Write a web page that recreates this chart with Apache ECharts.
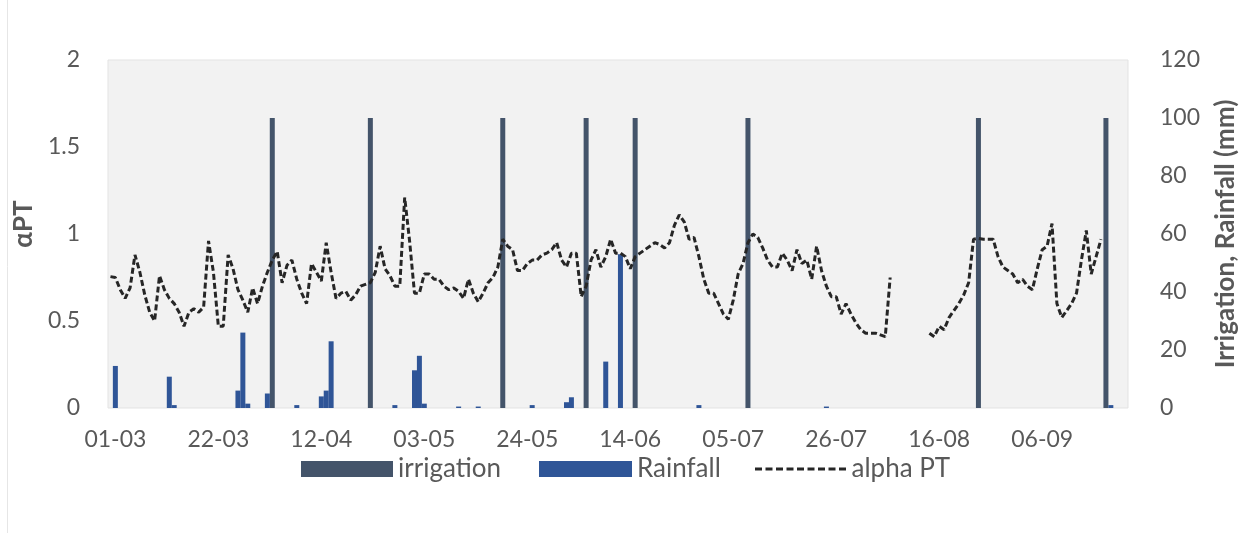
<!DOCTYPE html>
<html>
<head>
<meta charset="utf-8">
<script src="https://cdn.jsdelivr.net/npm/echarts@6/dist/echarts.min.js"></script>
<style>
  html, body { margin: 0; padding: 0; background: #ffffff; }
  #chart { width: 1250px; height: 533px; }
</style>
</head>
<body>
<div id="chart"></div>
<script>
// ---- Data ----
// Daily categories: 28-02 .. 23-09 (208 days)
const startDate = [2019, 1, 28];   // year, month (0-based), day
const dayCount = 208;

// Irrigation events (dd-mm) and depths (mm)
const irrigationDates = ['02-04', '22-04', '19-05', '05-06', '15-06', '08-07', '24-08', '19-09'];
const irrigationMm    = [100, 100, 100, 100, 100, 100, 100, 100];

// Rainfall events (dd-mm) and depths (mm)
const rainfallDates = ['01-03', '12-03', '13-03', '26-03', '27-03', '28-03', '01-04', '07-04',
                       '12-04', '13-04', '14-04', '27-04', '01-05', '02-05', '03-05', '10-05',
                       '14-05', '25-05', '01-06', '02-06', '09-06', '12-06', '28-06', '24-07', '20-09'];
const rainfallMm    = [14.5, 10.8, 1, 6, 26, 1.5, 5, 1,
                       4, 6, 23, 1, 13, 18, 1.5, 0.5,
                       0.5, 1, 2, 3.7, 16, 53, 1, 0.5, 1];

// Daily alpha PT (Priestley-Taylor coefficient), one value per category, null = missing
const alphaPT = [
  0.755, 0.75, 0.68, 0.63, 0.69, 0.88, 0.78, 0.65, 0.55, 0.50,
  0.76, 0.68, 0.63, 0.60, 0.55, 0.47, 0.55, 0.57, 0.55, 0.58,
  0.96, 0.78, 0.47, 0.47, 0.88, 0.80, 0.68, 0.62, 0.55, 0.69,
  0.60, 0.70, 0.78, 0.85, 0.90, 0.72, 0.82, 0.85, 0.74, 0.66,
  0.60, 0.83, 0.78, 0.73, 0.95, 0.78, 0.63, 0.66, 0.67, 0.62,
  0.65, 0.70, 0.71, 0.72, 0.78, 0.93, 0.80, 0.76, 0.70, 0.70,
  1.21, 0.96, 0.66, 0.66, 0.77, 0.77, 0.74, 0.74, 0.70, 0.68,
  0.69, 0.67, 0.63, 0.74, 0.66, 0.61, 0.66, 0.72, 0.75, 0.81,
  0.97, 0.93, 0.91, 0.79, 0.79, 0.83, 0.85, 0.85, 0.88, 0.89,
  0.91, 0.95, 0.85, 0.81, 0.89, 0.89, 0.64, 0.70, 0.85, 0.91,
  0.81, 0.87, 0.97, 0.89, 0.89, 0.87, 0.80, 0.87, 0.89, 0.91,
  0.93, 0.95, 0.94, 0.92, 0.95, 1.05, 1.11, 1.07, 0.97, 0.98,
  0.87, 0.74, 0.66, 0.66, 0.60, 0.54, 0.51, 0.62, 0.77, 0.83,
  0.95, 1.00, 0.98, 0.92, 0.85, 0.81, 0.81, 0.89, 0.85, 0.79,
  0.91, 0.83, 0.85, 0.74, 0.93, 0.79, 0.70, 0.64, 0.64, 0.54,
  0.60, 0.54, 0.49, 0.45, 0.43, 0.43, 0.43, 0.42, 0.41, 0.75,
  null, null, null, null, null, null, null, 0.43, 0.41, 0.47,
  0.45, 0.52, 0.56, 0.60, 0.65, 0.72, 0.97, 0.975, 0.97, 0.97,
  0.97, 0.87, 0.81, 0.79, 0.77, 0.72, 0.74, 0.70, 0.68, 0.80,
  0.91, 0.93, 1.06, 0.60, 0.52, 0.56, 0.60, 0.66, 0.85, 1.02,
  0.77, 0.87, 0.97, null, null, null, null, null
];

// Axis settings
const leftAxis  = { min: 0, max: 2,   interval: 0.5, name: 'αPT' };
const rightAxis = { min: 0, max: 120, interval: 20,  name: 'Irrigation, Rainfall (mm)' };
const labelEvery = 21;     // days between x-axis labels
const firstLabelIndex = 1; // 01-03

// ---- Build categories ----
const categories = [];
for (let k = 0; k < dayCount; k++) {
  const d = new Date(Date.UTC(startDate[0], startDate[1], startDate[2] + k));
  const dd = String(d.getUTCDate()).padStart(2, '0');
  const mm = String(d.getUTCMonth() + 1).padStart(2, '0');
  categories.push(dd + '-' + mm);
}
function toDaily(dates, values) {
  const arr = categories.map(() => null);
  dates.forEach((dt, j) => {
    const idx = categories.indexOf(dt);
    if (idx >= 0) arr[idx] = values[j];
  });
  return arr;
}
const irrigationDaily = toDaily(irrigationDates, irrigationMm);
const rainfallDaily   = toDaily(rainfallDates, rainfallMm);

const FONT = 'Lato, "Open Sans", sans-serif';
const TXT = '#595959';
const LINE_COLOR = '#262626';

// dashed legend key for the alpha PT line
let dashPath = 'path://';
for (let k = 0; k < 9; k++) {
  const x0 = k * 10.5;
  dashPath += 'M' + x0 + ',0H' + (x0 + 7) + 'V3H' + x0 + 'Z';
}

const legendText = { color: TXT, fontSize: 26, fontFamily: FONT };

const chart = echarts.init(document.getElementById('chart'), null, { renderer: 'canvas' });
chart.setOption({
  animation: false,
  backgroundColor: '#ffffff',
  textStyle: { fontFamily: FONT },
  graphic: [{
    type: 'line', shape: { x1: 7.5, y1: 0, x2: 7.5, y2: 533 },
    style: { stroke: '#e6e6e6', lineWidth: 1 }, silent: true
  }],
  grid: {
    left: 108, right: 122, top: 60, bottom: 125,
    show: true, backgroundColor: '#F2F2F2', borderColor: '#E3E3E3', borderWidth: 1
  },
  legend: [{
    data: ['irrigation'],
    left: 301, top: 456, padding: 0,
    itemWidth: 92, itemHeight: 16, icon: 'rect',
    textStyle: legendText
  }, {
    data: ['Rainfall'],
    left: 539, top: 456, padding: 0,
    itemWidth: 93, itemHeight: 16, icon: 'rect',
    textStyle: legendText
  }, {
    data: [{ name: 'alpha PT', icon: dashPath, itemStyle: { color: LINE_COLOR } }],
    left: 755, top: 456, padding: 0,
    itemWidth: 92, itemHeight: 3,
    textStyle: legendText
  }],
  xAxis: {
    type: 'category',
    data: categories,
    boundaryGap: true,
    axisLine: { show: false },
    axisTick: { show: false },
    splitLine: { show: false },
    axisLabel: {
      interval: (index) => (index - firstLabelIndex) % labelEvery === 0,
      color: TXT, fontSize: 23, fontFamily: FONT, margin: 20
    }
  },
  yAxis: [{
    type: 'value',
    min: leftAxis.min, max: leftAxis.max, interval: leftAxis.interval,
    name: leftAxis.name,
    nameLocation: 'middle', nameGap: 54, nameRotate: 90,
    nameTextStyle: { color: TXT, fontSize: 26, fontWeight: 'bold', fontFamily: FONT, padding: [0, 0, 0, 20] },
    axisLine: { show: false }, axisTick: { show: false },
    splitLine: { show: false },
    axisLabel: { color: TXT, fontSize: 23, fontFamily: FONT, margin: 28 }
  }, {
    type: 'value',
    position: 'right',
    min: rightAxis.min, max: rightAxis.max, interval: rightAxis.interval,
    name: rightAxis.name,
    nameLocation: 'middle', nameGap: 85, nameRotate: 90,
    nameTextStyle: { color: TXT, fontSize: 26, fontWeight: 'bold', fontFamily: FONT },
    axisLine: { show: false }, axisTick: { show: false },
    splitLine: { show: false },
    axisLabel: { color: TXT, fontSize: 23, fontFamily: FONT, margin: 32 }
  }],
  series: [{
    name: 'irrigation',
    type: 'bar',
    yAxisIndex: 1,
    data: irrigationDaily,
    barWidth: 5,
    barGap: '-100%',
    itemStyle: { color: '#44546A' }
  }, {
    name: 'Rainfall',
    type: 'bar',
    yAxisIndex: 1,
    data: rainfallDaily,
    barWidth: 5,
    itemStyle: { color: '#2F5597' }
  }, {
    name: 'alpha PT',
    type: 'line',
    yAxisIndex: 0,
    data: alphaPT,
    symbol: 'none',
    connectNulls: false,
    lineStyle: { color: LINE_COLOR, width: 3, type: [6, 3] },
    itemStyle: { color: LINE_COLOR }
  }]
});
</script>
</body>
</html>
